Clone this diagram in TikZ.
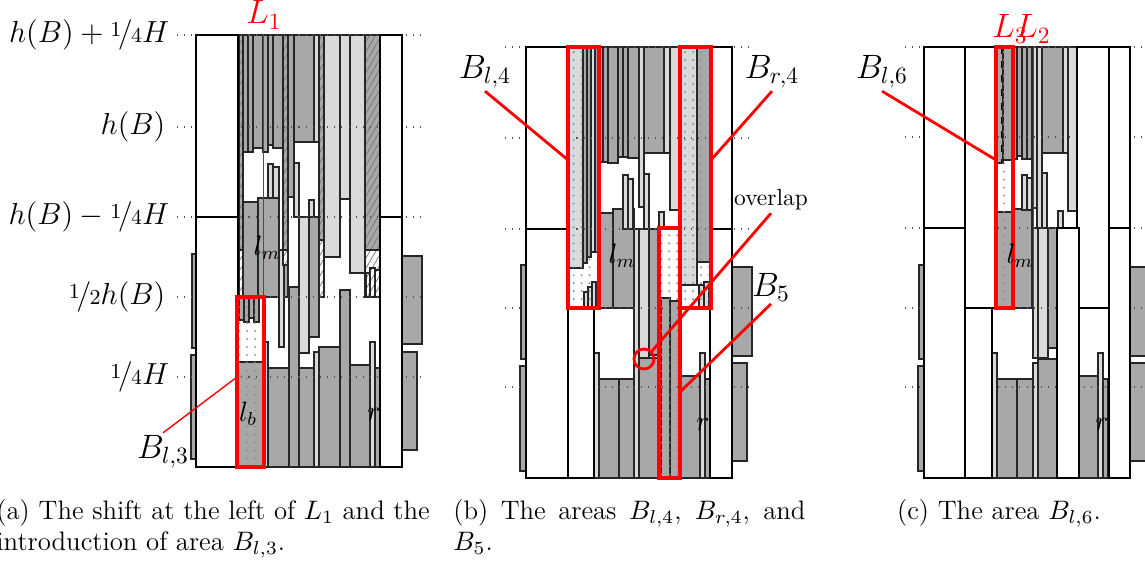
\RequirePackage{fix-cm}
\documentclass[tikz,border=0pt]{standalone}
\usepackage{nicefrac}
\usepackage{tikz}
\usetikzlibrary{patterns.meta}
\definecolor{boxdark}{HTML}{A8A8A8}
\definecolor{boxlight}{HTML}{DADADA}
\definecolor{levelgray}{HTML}{555555}
\tikzset{
  col/.style={draw=black!85, line width=0.45pt},
  dcol/.style={col, fill=boxdark},
  lcol/.style={col, fill=boxlight},
  hdcol/.style={col, preaction={fill=boxdark},
                pattern={Lines[angle=60,distance=2.2pt,line width=0.3pt]}, pattern color=black!55},
  hwcol/.style={col, preaction={fill=white},
                pattern={Lines[angle=60,distance=2.2pt,line width=0.3pt]}, pattern color=black!55},
  bin/.style={draw=black, line width=0.9pt, fill=white},
  dotarea/.style={pattern={Dots[radius=0.45pt,distance=3.4pt]}, pattern color=black!45},
  area/.style={draw=red, line width=1.3pt},
  leader/.style={draw=red, line width=1.2pt},
  leaderthin/.style={draw=red, line width=0.6pt},
  split/.style={draw=red, line width=0.4pt},
  level/.style={levelgray, line width=0.45pt, dash pattern=on 0.45pt off 2.6pt},
  lvl/.style={font=\fontsize{13}{15}\selectfont, anchor=east, inner sep=1pt},
  arealbl/.style={font=\Large, inner sep=1pt},
  cutlbl/.style={font=\Large, text=red, inner sep=1pt},
  var/.style={font=\large, inner sep=0pt},
  capt/.style={anchor=north west, align=left, inner sep=0pt,
               font=\fontsize{11.4}{13.2}\selectfont},
}

\begin{document}
\begin{tikzpicture}[x=0.015cm, y=-0.015cm]
  \useasboundingbox (0,0) rectangle (1145,562);

  % ── (a): columns ──────────────────────────────────────────────────────
  \foreach \xa/\ya/\xb/\yb in {243/35/248/152, 248/35/253/152, 253/35/263/148,
      263/35/268/152, 268/35/273/145, 273/35/283/148, 288/35/294/197, 294/35/314/142,
      243/202/258/297, 258/198/279/297, 309/217/319/337, 283/265/288/297,
      268/368/289/467, 289/287/299/467, 299/368/314/467, 319/347/340/467,
      340/290/350/467, 350/365/370/467, 375/368/380/467, 237/362/264/467,
      239/297/244/320, 244/297/249/322, 249/297/254/318, 254/297/259/322,
      192/254/196/348, 191/355/196/459, 402/256/422/344, 402/352/417/450}
    \draw[dcol] (\xa,\ya) rectangle (\xb,\yb);
  \foreach \xa/\ya/\xb/\yb in {314/35/319/142, 324/35/340/257, 340/35/350/199,
      350/35/365/273, 268/164/273/198, 273/167/279/198, 294/163/299/217,
      309/200/314/217, 299/217/309/353, 279/250/284/347, 314/352/319/467,
      370/342/375/467, 264/342/268/467}
    \draw[lcol] (\xa,\ya) rectangle (\xb,\yb);
  \foreach \xa/\ya/\xb/\yb in {239/35/243/250, 283/35/288/250, 319/35/324/240, 365/35/380/250}
    \draw[hdcol] (\xa,\ya) rectangle (\xb,\yb);
  \foreach \xa/\ya/\xb/\yb in {239/250/243/297, 283/250/288/265, 319/240/324/297,
      365/250/380/297, 366/273/370/297, 370/268/375/297, 375/270/380/297}
    \draw[hwcol] (\xa,\ya) rectangle (\xb,\yb);
  \fill[dotarea] (237,297) rectangle (264,467);

  \foreach \y in {35,127,217,297,377}
    \draw[level] (177,\y) -- (425,\y);

  \foreach \xa/\ya/\xb/\yb in {196/35/238/217, 196/217/238/467, 380/35/402/217, 380/217/402/467}
    \draw[bin] (\xa,\ya) rectangle (\xb,\yb);

  \node[lvl] (lv-hq) at (172,35)  {$h(B)+\nicefrac{1}{4}H$};
  \node[lvl] (lv-hb) at (168,127) {$h(B)$};
  \node[lvl] (lv-hm) at (172,217) {$h(B)-\nicefrac{1}{4}H$};
  \node[lvl] (lv-hh) at (168,297) {$\nicefrac{1}{2}h(B)$};
  \node[lvl] (lv-q)  at (172,377) {$\nicefrac{1}{4}H$};

  \node[cutlbl] (L1) at (264,15) {$L_1$};
  \coordinate (L1top) at (263,35);
  \draw[split] (L1top) -- ++(0,262);

  \draw[area] (237,297) rectangle (264,467);
  \coordinate (bl3tip) at (237,377);
  \node[arealbl] (bl3) at (163,452) {$B_{l,3}$};
  \draw[leaderthin] (bl3.north) -- (bl3tip);

  \node[var] (a-lm) at (267,248) {$l_m$};
  \node[var] (a-lb) at (248,414) {$l_b$};
  \node[var] (a-r)  at (374,414) {$r$};

  % ── (b): columns ──────────────────────────────────────────────────────
  \foreach \xa/\ya/\xb/\yb in {583/47/587/263, 587/47/591/257, 595/47/599/252,
      599/47/603/162, 603/47/608/162, 608/47/618/163, 618/47/623/157, 623/47/628/157,
      628/47/639/158, 644/47/664/153, 599/213/613/308, 613/209/634/308,
      649/229/659/355, 639/358/659/478, 697/47/711/262, 599/379/619/478,
      619/379/634/478, 661/298/670/478, 670/301/680/478, 680/376/700/478,
      705/379/710/478, 521/265/526/359, 520/366/526/471, 732/267/752/356, 732/363/747/461}
    \draw[dcol] (\xa,\ya) rectangle (\xb,\yb);
  \foreach \xa/\ya/\xb/\yb in {568/47/583/268, 591/47/595/252, 584/292/588/308,
      588/287/592/308, 592/282/596/308, 639/47/644/207, 664/47/670/153,
      670/47/680/210, 623/175/628/229, 628/179/633/229, 644/174/649/229,
      659/212/664/229, 680/47/697/285, 699/285/704/308, 704/282/709/308,
      634/229/639/478, 639/229/649/358, 594/353/599/478, 700/353/705/478}
    \draw[lcol] (\xa,\ya) rectangle (\xb,\yb);
  \fill[dotarea] (568,47) rectangle (599,308);
  \fill[dotarea] (680,47) rectangle (711,308);
  \fill[dotarea] (659,228) rectangle (680,478);

  \foreach \y in {47,138,229,308,387}
    \draw[level] (505,\y) -- (752,\y);

  \foreach \xa/\ya/\xb/\yb in {526/47/568/229, 526/229/568/478, 568/308/594/478,
      710/47/732/229, 710/229/732/478}
    \draw[bin] (\xa,\ya) rectangle (\xb,\yb);

  \draw[area] (568,47) rectangle (599,308);
  \draw[area] (680,47) rectangle (711,308);
  \draw[area] (659,228) rectangle (680,478);
  \coordinate (bl4tip) at (568,160);
  \coordinate (br4tip) at (711,160);
  \coordinate (b5tip)  at (680,392);
  \node[circle, draw=red, line width=1.2pt, minimum size=0.3cm, inner sep=0pt] (ovl) at (644,359) {};

  \node[arealbl] (bl4) at (485,72)  {$B_{l,4}$};
  \node[arealbl] (br4) at (772,72)  {$B_{r,4}$};
  \node[inner sep=1pt] (ovlap) at (771,200) {overlap};
  \node[arealbl] (b5)  at (771,287) {$B_5$};
  \draw[leader] (bl4.south) -- (bl4tip);
  \draw[leader] (br4.south) -- (br4tip);
  \draw[leader] (ovlap.south) -- (ovl.45);
  \draw[leader] (b5.south) -- (b5tip);

  \node[var] (b-lm) at (622,256) {$l_m$};
  \node[var] (b-r)  at (703,424) {$r$};

  % ── (c): columns ──────────────────────────────────────────────────────
  \foreach \xa/\ya/\xb/\yb in {996/47/1003/163, 1003/47/1013/160, 1013/47/1017/159,
      1017/47/1022/156, 1022/47/1027/159, 1027/47/1032/159, 1042/47/1063/153,
      1013/209/1032/308, 996/212/1013/308, 1048/228/1057/348, 997/379/1017/478,
      1017/379/1033/478, 1038/359/1057/478, 1079/376/1098/478, 1103/379/1108/478,
      919/265/924/359, 918/366/924/471, 1130/267/1150/356, 1130/363/1150/461}
    \draw[dcol] (\xa,\ya) rectangle (\xb,\yb);
  \foreach \xa/\ya/\xb/\yb in {1032/47/1037/208, 1037/47/1042/228, 1063/47/1068/153,
      1068/47/1077/211, 1022/175/1027/210, 1027/178/1032/210, 1042/173/1047/228,
      1058/211/1063/228, 1033/228/1038/358, 1038/228/1048/358, 992/353/997/478,
      1033/363/1038/478, 1098/353/1103/478}
    \draw[lcol] (\xa,\ya) rectangle (\xb,\yb);
  \fill[dotarea] (996,47) rectangle (1013,308);
  \draw[black, line width=0.4pt, dashed] (1001,47) -- (1001,163);

  \foreach \y in {47,137,228,308,387}
    \draw[level] (905,\y) -- (1145,\y);

  \foreach \xa/\ya/\xb/\yb in {924/47/965/228, 924/228/965/478, 965/47/996/308,
      965/308/992/478, 1077/47/1109/308, 1057/228/1079/478, 1109/47/1130/228, 1109/228/1130/478}
    \draw[bin] (\xa,\ya) rectangle (\xb,\yb);

  \node[cutlbl] (L3) at (1010,29) {$L_3$};
  \node[cutlbl] (L2) at (1033,29) {$L_2$};
  \coordinate (L2top) at (1033,47);
  \draw[split] (L2top) -- ++(0,261);

  \draw[area] (996,47) rectangle (1013,308);
  \coordinate (bl6tip) at (996,160);
  \node[arealbl] (bl6) at (882,72) {$B_{l,6}$};
  \draw[leader] (bl6.south) -- (bl6tip);

  \node[var] (c-lm) at (1020,256) {$l_m$};
  \node[var] (c-r)  at (1102,424) {$r$};

  % ── captions ──────────────────────────────────────────────────────────
  \node[capt] (cap-a) at (-4,499)
    {\makebox[6.5cm][s]{(a) The shift at the left of $L_1$ and the}\\introduction of area $B_{l,3}$.};
  \node[capt] (cap-b) at (453,499)
    {\makebox[5.28cm][s]{(b) The areas $B_{l,4}$, $B_{r,4}$, and}\\$B_5$.};
  \node[capt, anchor=north] (cap-c) at (999,499) {(c) The area $B_{l,6}$.};

\end{tikzpicture}
\end{document}
